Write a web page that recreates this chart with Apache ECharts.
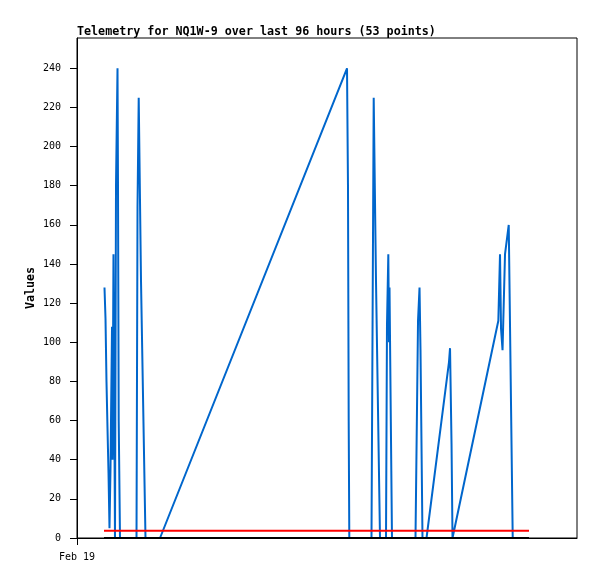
<!DOCTYPE html>
<html>
<head>
<meta charset="utf-8">
<script src="https://cdn.jsdelivr.net/npm/echarts@6/dist/echarts.min.js"></script>
<style>
html,body{margin:0;padding:0;background:#fff;}
#c{width:597px;height:579px;}
</style>
</head>
<body>
<div id="c"></div>
<script>
// hours since Feb 19 00:00
const hours = [6.21,6.44,6.66,6.89,7.12,7.34,7.57,7.91,8.02,8.24,8.58,8.81,9.15,9.26,9.42,9.71,
  13.44,13.67,13.94,14.46,15.47,18.75,60.99,61.21,61.37,61.51,
  66.52,67.02,67.54,68.44,69.80,70.02,70.32,70.48,70.59,71.15,
  76.46,77.03,77.37,77.59,78.04,78.95,84.03,84.26,84.60,84.82,
  95.17,95.55,95.78,96.12,96.68,97.52,98.42];
const values = [128,112,80,56,33,5,36,108,40,145,0,180,240,180,60,0,
  0,169,225,131,0,0,240,180,60,0,
  0,225,131,0,0,109,145,100,128,0,
  0,111,128,96,0,0,90,97,48,0,
  111,145,107,96,145,160,0];
const rangeHours = [6.1, 102.1];
const zeroLine = [0, 0];
const thresholdLine = [3.7, 3.7];
const yTicks = [0,20,40,60,80,100,120,140,160,180,200,220,240];
const xTickValues = [0];
const xTickLabels = ['Feb 19'];
const titleText = 'Telemetry for NQ1W-9 over last 96 hours (53 points)';

const mono = 'DejaVu Sans Mono';
const chart = echarts.init(document.getElementById('c'), null, {renderer:'canvas'});
chart.setOption({
  animation: false,
  backgroundColor: '#fff',
  title: {
    text: titleText, left: 77, top: 26, padding: 0,
    textStyle: {fontFamily: mono, fontWeight: 'bold', fontSize: 11.7, color: '#000'}
  },
  grid: {left: 77, top: 38, width: 500, height: 500, show: true, borderColor: '#000', borderWidth: 1, backgroundColor: 'transparent'},
  xAxis: {
    type: 'value', min: 0, max: 112.94,
    axisLine: {show: true, lineStyle: {color: '#000', width: 1}},
    axisTick: {show: true, length: 7, customValues: xTickValues, lineStyle: {color: '#000'}},
    axisLabel: {customValues: xTickValues, margin: 14, fontFamily: mono, fontSize: 10, color: '#000',
      formatter: v => xTickLabels[xTickValues.indexOf(v)] || ''},
    splitLine: {show: false}
  },
  yAxis: {
    type: 'value', min: 0, max: 255.5,
    name: 'Values', nameLocation: 'middle', nameGap: 40, nameRotate: 90, nameMoveOverlap: false,
    nameTextStyle: {fontFamily: mono, fontWeight: 'bold', fontSize: 11.7, color: '#000'},
    axisLine: {show: true, lineStyle: {color: '#000', width: 1}},
    axisTick: {show: true, length: 7, customValues: yTicks, lineStyle: {color: '#000'}},
    axisLabel: {customValues: yTicks, margin: 16, fontFamily: mono, fontSize: 10, color: '#000'},
    splitLine: {show: false}
  },
  series: [
    {type: 'line', data: hours.map((h, i) => [h, values[i]]), showSymbol: false,
      lineStyle: {color: '#0066cc', width: 2}, itemStyle: {color: '#0066cc'}, z: 2},
    {type: 'line', data: rangeHours.map((h, i) => [h, thresholdLine[i]]), showSymbol: false,
      lineStyle: {color: '#ff0000', width: 2}, z: 3},
    {type: 'line', data: rangeHours.map((h, i) => [h, zeroLine[i]]), showSymbol: false,
      lineStyle: {color: '#000000', width: 2}, z: 4}
  ]
});
</script>
</body>
</html>
